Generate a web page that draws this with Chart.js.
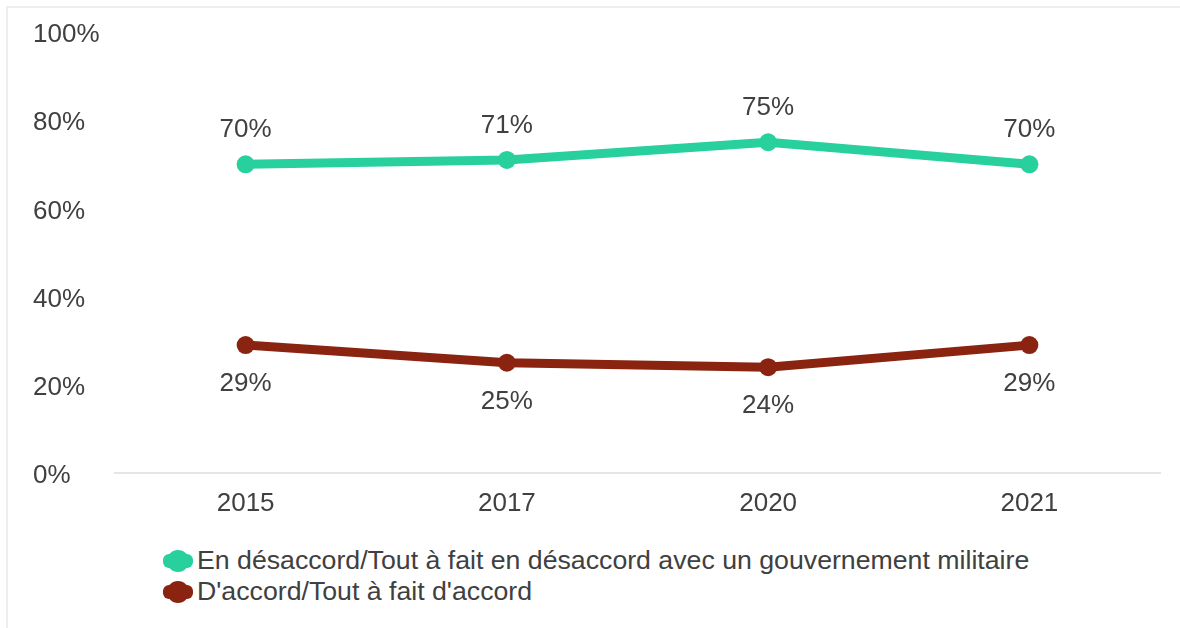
<!DOCTYPE html>
<html lang="fr">
<head>
<meta charset="utf-8">
<script src="https://cdn.jsdelivr.net/npm/chart.js@4/dist/chart.umd.min.js"></script>
<style>
  body { margin: 0; background: #fff; font-family: "Liberation Sans", Arial, sans-serif; }
  #frame {
    position: absolute; left: 6px; top: 6px; width: 1174px; height: 622px;
    border-top: 2px solid #eeeeee; border-left: 2px solid #eeeeee;
  }
  #wrap { position: absolute; left: 0; top: 0; width: 1172px; height: 506px; }
  #legend { position: absolute; left: 155px; top: 537px; color: #404040; font-size: 26.7px; }
  .item { display: flex; align-items: center; height: 31px; }
  .mark { position: relative; width: 30px; height: 22px; margin-right: 4px; }
  .mark::before { content: ''; position: absolute; left: 0; top: 4px; width: 30px; height: 14px; border-radius: 6px; background: var(--c); }
  .mark::after { content: ''; position: absolute; left: 4px; top: 0; width: 22px; height: 22px; border-radius: 50%; background: var(--c); }
</style>
</head>
<body>
<div id="frame">
  <div id="wrap"><canvas id="myChart"></canvas></div>
  <div id="legend"></div>
</div>
<script>
const years = ['2015', '2017', '2020', '2021'];
const disagree = [70, 71, 75, 70];
const agree = [29, 25, 24, 29];
const yTicks = [0, 20, 40, 60, 80, 100];

const seriesNames = [
  'En désaccord/Tout à fait en désaccord avec un gouvernement militaire',
  "D'accord/Tout à fait d'accord"
];
const seriesColors = ['#27d09d', '#8a2410'];

const textColor = '#404040';
const font = { family: '"Liberation Sans", Arial, sans-serif', size: 26 };

// writes "70%" etc. above or below each point
const valueLabels = {
  id: 'valueLabels',
  afterDatasetsDraw(chart) {
    const ctx = chart.ctx;
    ctx.save();
    ctx.font = `${font.size}px ${font.family}`;
    ctx.fillStyle = textColor;
    ctx.textAlign = 'center';
    ctx.textBaseline = 'middle';
    chart.data.datasets.forEach((ds, i) => {
      chart.getDatasetMeta(i).data.forEach((pt, j) => {
        ctx.fillText(ds.data[j] + '%', pt.x, pt.y + ds.labelOffset);
      });
    });
    ctx.restore();
  }
};

const ctx = document.getElementById('myChart').getContext('2d');
const chart = new Chart(ctx, {
  type: 'line',
  data: {
    labels: years,
    datasets: [
      {
        label: seriesNames[0],
        data: disagree,
        borderColor: seriesColors[0],
        backgroundColor: seriesColors[0],
        borderWidth: 9,
        pointRadius: 9,
        pointBorderWidth: 0,
        labelOffset: -34
      },
      {
        label: seriesNames[1],
        data: agree,
        borderColor: seriesColors[1],
        backgroundColor: seriesColors[1],
        borderWidth: 9,
        pointRadius: 9,
        pointBorderWidth: 0,
        labelOffset: 39
      }
    ]
  },
  options: {
    responsive: true,
    maintainAspectRatio: false,
    animation: false,
    layout: { autoPadding: false, padding: { left: 25, right: 20, top: 24, bottom: 0 } },
    plugins: {
      legend: { display: false },
      tooltip: { enabled: false }
    },
    scales: {
      x: {
        offset: true,
        afterFit(scale) { scale.height = 41; },
        grid: { display: false, drawTicks: false },
        border: { display: true, color: '#e6e6e6', width: 2 },
        ticks: { color: textColor, font: font, padding: 15 }
      },
      y: {
        min: 0,
        max: 100,
        afterFit(scale) { scale.width = 82; },
        afterBuildTicks(scale) { scale.ticks = yTicks.map(v => ({ value: v })); },
        grid: { display: false, drawTicks: false },
        border: { display: false },
        ticks: {
          color: textColor,
          font: font,
          crossAlign: 'far',
          labelOffset: 3,
          callback: v => v + '%'
        }
      }
    }
  },
  plugins: [valueLabels]
});

// legend built from the datasets, one entry per line
const legend = document.getElementById('legend');
chart.data.datasets.forEach(ds => {
  const item = document.createElement('div');
  item.className = 'item';
  const mark = document.createElement('span');
  mark.className = 'mark';
  mark.style.setProperty('--c', ds.borderColor);
  item.appendChild(mark);
  item.appendChild(document.createTextNode(ds.label));
  legend.appendChild(item);
});
</script>
</body>
</html>
